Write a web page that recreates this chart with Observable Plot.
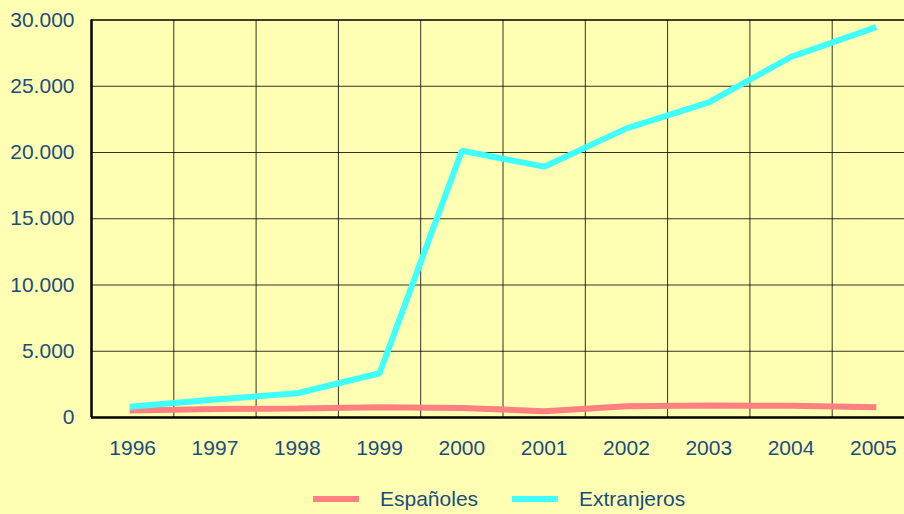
<!DOCTYPE html>
<html>
<head>
<meta charset="utf-8">
<script src="https://cdn.jsdelivr.net/npm/d3@7"></script>
<script src="https://cdn.jsdelivr.net/npm/@observablehq/plot@0.6"></script>
<style>
  html, body { margin: 0; padding: 0; background: #ffffb3; overflow: hidden; width: 904px; height: 514px; }
  #chart { position: absolute; left: 0; top: 0; width: 914px; }
  #chart svg { max-width: none !important; }
  #legend { position: absolute; left: 0; top: 486px; width: 904px; height: 26px; font-family: "Liberation Sans", Arial, sans-serif; font-size: 21px; color: #1b4c7e; }
  .item { position: absolute; top: 0; height: 26px; display: flex; align-items: center; }
  .sw { width: 46px; height: 6px; margin-right: 21px; }
</style>
</head>
<body>
<div id="chart"></div>
<div id="legend"></div>
<script>
const years = [1996, 1997, 1998, 1999, 2000, 2001, 2002, 2003, 2004, 2005];
const espanoles = [530, 650, 680, 780, 720, 480, 850, 900, 880, 780];
const extranjeros = [830, 1350, 1830, 3340, 20130, 18930, 21820, 23780, 27220, 29390];
const yTicks = [0, 5000, 10000, 15000, 20000, 25000, 30000];
const seriesNames = ["Españoles", "Extranjeros"];
const seriesColors = ["#ff8080", "#40ffff"];

const textColor = "#1b4c7e";
const esLocale = d3.formatLocale({decimal: ",", thousands: ".", grouping: [3], currency: ["", " €"]});
const fmt = esLocale.format(",");

const dataEs = years.map((y, i) => ({year: y, value: espanoles[i]}));
const dataEx = years.map((y, i) => ({year: y, value: extranjeros[i]}));
const boundaries = years.slice(1).map(y => y - 0.5);

const chart = Plot.plot({
  width: 914,
  height: 475,
  marginLeft: 91,
  marginRight: 0,
  marginTop: 19.5,
  marginBottom: 58,
  style: {background: "transparent", fontFamily: "Liberation Sans, Arial, sans-serif", overflow: "visible", maxWidth: "none"},
  x: {type: "linear", domain: [years[0] - 0.5, years[years.length - 1] + 0.5]},
  y: {domain: [0, 30000]},
  marks: [
    Plot.ruleY(yTicks.filter(v => v > 0 && v < 30000), {stroke: "#000", strokeWidth: 1, strokeOpacity: 0.8}),
    Plot.ruleX(boundaries, {stroke: "#000", strokeWidth: 1, strokeOpacity: 0.8}),
    Plot.ruleY([30000], {stroke: "#000", strokeWidth: 1.5}),
    Plot.line(dataEs, {x: "year", y: "value", stroke: seriesColors[0], strokeWidth: 6, strokeLinecap: "square", strokeLinejoin: "miter"}),
    Plot.line(dataEx, {x: "year", y: "value", stroke: seriesColors[1], strokeWidth: 6, strokeLinecap: "square", strokeLinejoin: "miter"}),
    Plot.ruleX([years[0] - 0.5], {stroke: "#000", strokeWidth: 2.5}),
    Plot.ruleY([0], {stroke: "#000", strokeWidth: 2.5}),
    Plot.axisY(yTicks, {tickSize: 0, tickPadding: 17, fontSize: 21, color: textColor, tickFormat: fmt, label: null}),
    Plot.axisX(years, {tickSize: 0, tickPadding: 23, fontSize: 21, color: textColor, tickFormat: d => String(d), label: null})
  ]
});
document.getElementById("chart").appendChild(chart);

const legend = document.getElementById("legend");
const positions = [313, 512];
seriesNames.forEach((name, i) => {
  const item = document.createElement("div");
  item.className = "item";
  item.style.left = positions[i] + "px";
  const sw = document.createElement("div");
  sw.className = "sw";
  sw.style.background = seriesColors[i];
  const t = document.createElement("span");
  t.textContent = name;
  item.appendChild(sw);
  item.appendChild(t);
  legend.appendChild(item);
});
</script>
</body>
</html>
